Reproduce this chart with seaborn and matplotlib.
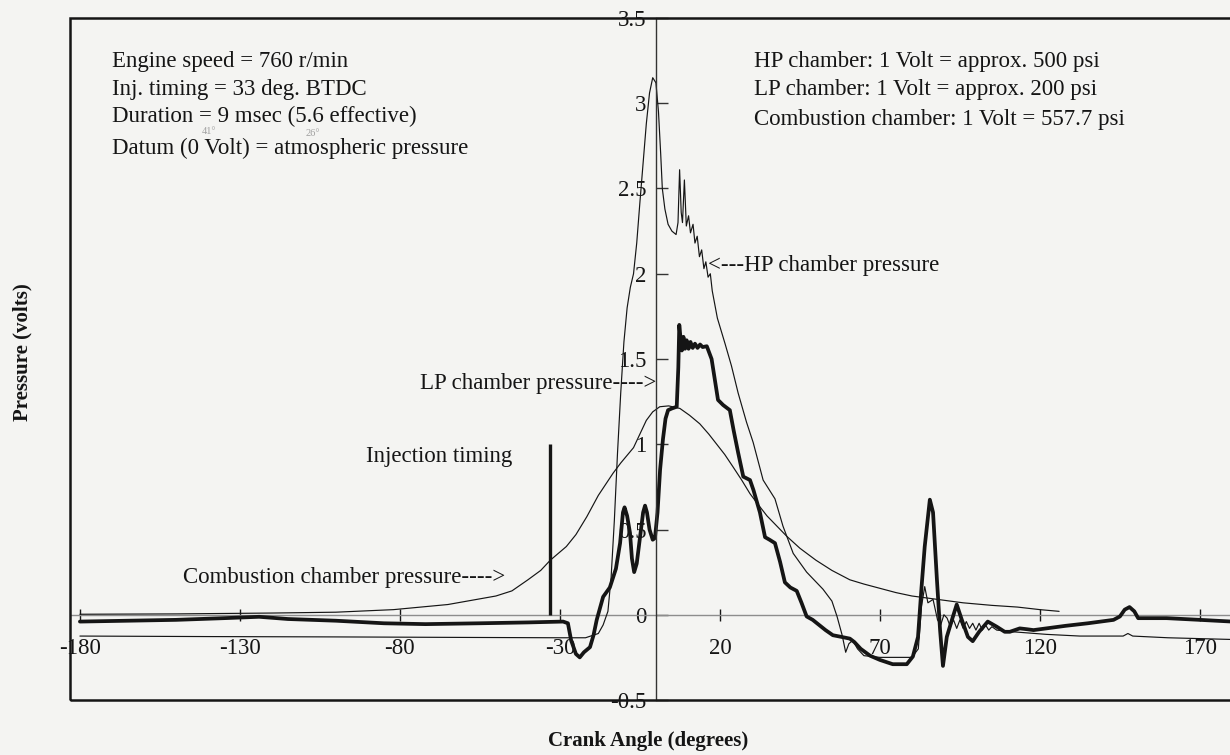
import matplotlib
matplotlib.use("Agg")
import matplotlib.pyplot as plt
from matplotlib.patches import Rectangle
import seaborn as sns

sns.set_theme(style="white")
plt.rcParams["font.family"] = ["Liberation Serif", "DejaVu Serif"]

# ---------------- data ----------------
hp_angle = [-180, -140, -100, -60, -30, -22, -18, -16.5, -15, -14, -13, -12, -11, -10, -9, -8,
            -7, -6, -5, -4, -3, -2, -1, 0, 0.8, 1.5, 2, 2.8, 3.8, 5, 6.3, 6.9, 7.4, 7.9, 8.3,
            8.9, 9.5, 10.2, 10.8, 11.6, 12.2, 12.9, 13.6, 14.3, 15.0, 15.6, 16.3, 17.0, 17.6,
            18.4, 19.2, 21.6, 23.6, 25.7, 28.3, 30.4, 33.5, 37.2, 39.7, 42.9, 47.1, 52.2, 55,
            56.6, 58.2, 59.3, 60.3, 61.5, 63, 65, 70, 75, 80, 82, 83, 84, 85, 86.6, 88, 89, 90,
            91, 92, 93, 94, 95, 96, 97, 98, 99, 100, 101, 102, 103, 104, 105, 106.5, 111.6,
            122, 132.5, 146, 147.5, 149, 160, 180]
hp_volts = [-0.125, -0.128, -0.13, -0.133, -0.135, -0.135, -0.11, -0.06, 0.02, 0.22, 0.55, 0.95,
            1.3, 1.6, 1.8, 1.92, 2.0, 2.18, 2.42, 2.65, 2.88, 3.06, 3.15, 3.12, 2.95, 2.7, 2.5,
            2.38, 2.29, 2.25, 2.23, 2.30, 2.61, 2.36, 2.30, 2.55, 2.28, 2.34, 2.24, 2.29, 2.18,
            2.22, 2.10, 2.14, 2.03, 2.07, 1.98, 2.0, 1.90, 1.82, 1.74, 1.59, 1.46, 1.30, 1.13,
            1.01, 0.79, 0.68, 0.52, 0.36, 0.25, 0.15, 0.08, -0.01, -0.12, -0.22, -0.17, -0.15,
            -0.2, -0.24, -0.25, -0.25, -0.25, -0.2, 0.05, 0.165, 0.07, 0.09, -0.03, -0.06, 0.0,
            -0.02, -0.07, -0.03, -0.08, -0.03, -0.08, -0.04, -0.08, -0.05, -0.09, -0.05, -0.09,
            -0.06, -0.09, -0.07, -0.09, -0.10, -0.115, -0.125, -0.125, -0.11, -0.125, -0.135,
            -0.145]

lp_angle = [-180, -165, -150, -135, -124, -115, -100, -85, -72, -55, -40, -29, -27.5, -26.5, -25,
            -23.8, -22.5, -20.6, -19.5, -18.5, -16.5, -14.4, -12.5, -11.2, -10.3, -9.8, -9, -8.1,
            -7.5, -6.8, -6, -5, -4, -3.4, -2.8, -2, -1, -0.3, 0.5, 1.3, 2.2, 3, 3.8, 5, 6.5, 7.0,
            7.3, 7.7, 8.1, 8.6, 9.1, 9.6, 10.2, 10.8, 11.5, 12.2, 13, 13.8, 14.6, 15.9, 17.4,
            18.4, 19.4, 21, 23.1, 24.3, 25.7, 27.3, 29.4, 30.5, 32.5, 34.1, 35.5, 37.2, 38.8,
            40.3, 42, 44, 45.5, 47.1, 49, 51, 53, 55.3, 58, 60.6, 62, 64, 66.9, 70, 74, 78.4,
            80.3, 81.9, 83, 84, 85.6, 86.6, 87.8, 88.8, 89.7, 90.9, 92.5, 94, 95.6, 97.5, 99,
            101, 103.7, 106.5, 109, 110.6, 113.7, 116, 118, 122, 128, 135, 143, 145, 146.5, 148,
            149.5, 150.7, 159.6, 170, 180]
lp_volts = [-0.04, -0.035, -0.03, -0.02, -0.012, -0.025, -0.035, -0.05, -0.055, -0.05, -0.045,
            -0.04, -0.05, -0.15, -0.23, -0.25, -0.22, -0.19, -0.12, -0.03, 0.105, 0.16, 0.27,
            0.42, 0.6, 0.63, 0.58, 0.48, 0.33, 0.25, 0.3, 0.45, 0.6, 0.64, 0.6, 0.5, 0.44, 0.45,
            0.6, 0.85, 1.03, 1.15, 1.2, 1.21, 1.22, 1.45, 1.70, 1.62, 1.55, 1.63, 1.56, 1.61,
            1.56, 1.60, 1.565, 1.59, 1.565, 1.585, 1.57, 1.575, 1.50, 1.38, 1.26, 1.23, 1.20,
            1.08, 0.95, 0.81, 0.79, 0.73, 0.60, 0.455, 0.44, 0.42, 0.31, 0.19, 0.16, 0.14, 0.07,
            -0.01, -0.03, -0.06, -0.09, -0.12, -0.13, -0.14, -0.16, -0.2, -0.24, -0.265, -0.29,
            -0.29, -0.245, -0.13, 0.16, 0.40, 0.675, 0.60, 0.21, -0.09, -0.30, -0.13, -0.03,
            0.06, -0.03, -0.13, -0.155, -0.10, -0.04, -0.07, -0.10, -0.10, -0.08, -0.085, -0.09,
            -0.08, -0.065, -0.05, -0.03, -0.01, 0.03, 0.045, 0.02, -0.02, -0.02, -0.03, -0.04]

cc_angle = [-180, -150, -120, -100, -82, -65, -50, -45, -40, -36, -33, -28, -25, -21.6, -18,
            -13.4, -11, -7, -5, -3, -1, 1.2, 4, 7.5, 10.5, 13.7, 16.5, 19, 21.5, 24, 26.8, 29.4,
            32, 34.7, 37.8, 40.9, 45, 50, 55, 60.6, 65, 70, 75, 80, 88, 96, 105, 113, 120, 126]
cc_volts = [0.003, 0.005, 0.01, 0.015, 0.03, 0.06, 0.11, 0.14, 0.205, 0.26, 0.32, 0.40, 0.47,
            0.575, 0.7, 0.83, 0.89, 0.98, 1.06, 1.14, 1.19, 1.22, 1.225, 1.21, 1.17, 1.12, 1.06,
            1.0, 0.94, 0.87, 0.79, 0.71, 0.645, 0.58, 0.52, 0.46, 0.39, 0.32, 0.26, 0.205, 0.18,
            0.155, 0.13, 0.11, 0.09, 0.07, 0.055, 0.045, 0.03, 0.02]

injection_angle = -33
injection_height = [0.0, 1.0]

x_ticks = [-180, -130, -80, -30, 20, 70, 120, 170]
y_ticks = [-0.5, 0, 0.5, 1, 1.5, 2, 2.5, 3, 3.5]
y_tick_labels = ["-0.5", "0", "0.5", "1", "1.5", "2", "2.5", "3", "3.5"]

left_notes = ["Engine speed = 760 r/min", "Inj. timing = 33 deg. BTDC",
              "Duration = 9 msec (5.6 effective)", "Datum (0 Volt) = atmospheric pressure"]
right_notes = ["HP chamber: 1 Volt = approx. 500 psi", "LP chamber: 1 Volt = approx. 200 psi",
               "Combustion chamber: 1 Volt = 557.7 psi"]

# ---------------- figure ----------------
W, H = 1230, 755
BG = "#f4f4f2"
INK = "#151515"
FS = 16.5
fig = plt.figure(figsize=(W / 100, H / 100), dpi=100, facecolor=BG)
ax = fig.add_axes([70 / W, (H - 700) / H, 1 - 70 / W, (700 - 18) / H])
ax.set_facecolor(BG)

ax.axhline(0, color="#8d8d8d", lw=1.0, zorder=1)

sns.lineplot(x=cc_angle, y=cc_volts, ax=ax, color=INK, lw=0.85, estimator=None, sort=False, errorbar=None)
sns.lineplot(x=hp_angle, y=hp_volts, ax=ax, color=INK, lw=0.85, estimator=None, sort=False, errorbar=None)
sns.lineplot(x=lp_angle, y=lp_volts, ax=ax, color=INK, lw=2.7, estimator=None, sort=False, errorbar=None)
ax.vlines(injection_angle, injection_height[0], injection_height[1], color=INK, lw=2.4)

ax.set_xlim(-183.1, 179.4)
ax.set_ylim(-0.5, 3.5)

for s in ["top", "right", "bottom"]:
    ax.spines[s].set_visible(False)
ax.spines["left"].set_position(("data", 0))
ax.spines["left"].set_color("#333333")
ax.spines["left"].set_linewidth(1.0)
ax.spines["bottom"].set_position(("data", 0))

ax.set_xticks(x_ticks)
ax.set_xticklabels([str(v) for v in x_ticks])
ax.set_yticks(y_ticks)
ax.set_yticklabels(y_tick_labels)
ax.tick_params(axis="x", direction="inout", length=9, width=1.0, color=INK, pad=12,
               labelsize=FS, labelcolor=INK, bottom=True)
ax.tick_params(axis="y", direction="in", length=8.5, width=1.0, color="#333333", pad=7,
               labelsize=FS, labelcolor=INK, left=True)
ax.xaxis.set_ticks_position("bottom")
ax.yaxis.set_ticks_position("left")
ax.grid(False)

# frame
ax.add_patch(Rectangle((0, 0), 1.05, 1, transform=ax.transAxes, fill=False, lw=1.8,
                       edgecolor=INK, clip_on=False, zorder=5))


def ftext(px, py, s, **kw):
    fig.text(px / W, 1 - py / H, s, **kw)


for i, s in enumerate(left_notes):
    ftext(112, [61, 89, 116, 148][i], s, fontsize=FS, color=INK, va="center", ha="left")
for i, s in enumerate(right_notes):
    ftext(754, [62, 90, 119][i], s, fontsize=FS, color=INK, va="center", ha="left")
ftext(209, 132, "41°", fontsize=7.5, color="#a0a0a0", va="center", ha="center")
ftext(313, 133, "26°", fontsize=7.5, color="#a0a0a0", va="center", ha="center")

ftext(708, 265, "<---HP chamber pressure", fontsize=FS, color=INK, va="center", ha="left")
ftext(656, 384, "LP chamber pressure---->", fontsize=FS, color=INK, va="center", ha="right")
ftext(366, 457, "Injection timing", fontsize=FS, color=INK, va="center", ha="left")
ftext(505, 578, "Combustion chamber pressure---->", fontsize=FS, color=INK, va="center", ha="right")

ftext(22, 352, "Pressure (volts)", fontsize=15, fontweight="bold", color=INK, va="center",
      ha="center", rotation=90)
ftext(648, 741, "Crank Angle (degrees)", fontsize=15, fontweight="bold", color=INK,
      va="center", ha="center")

fig.savefig("out.png", dpi=100, facecolor=BG)
